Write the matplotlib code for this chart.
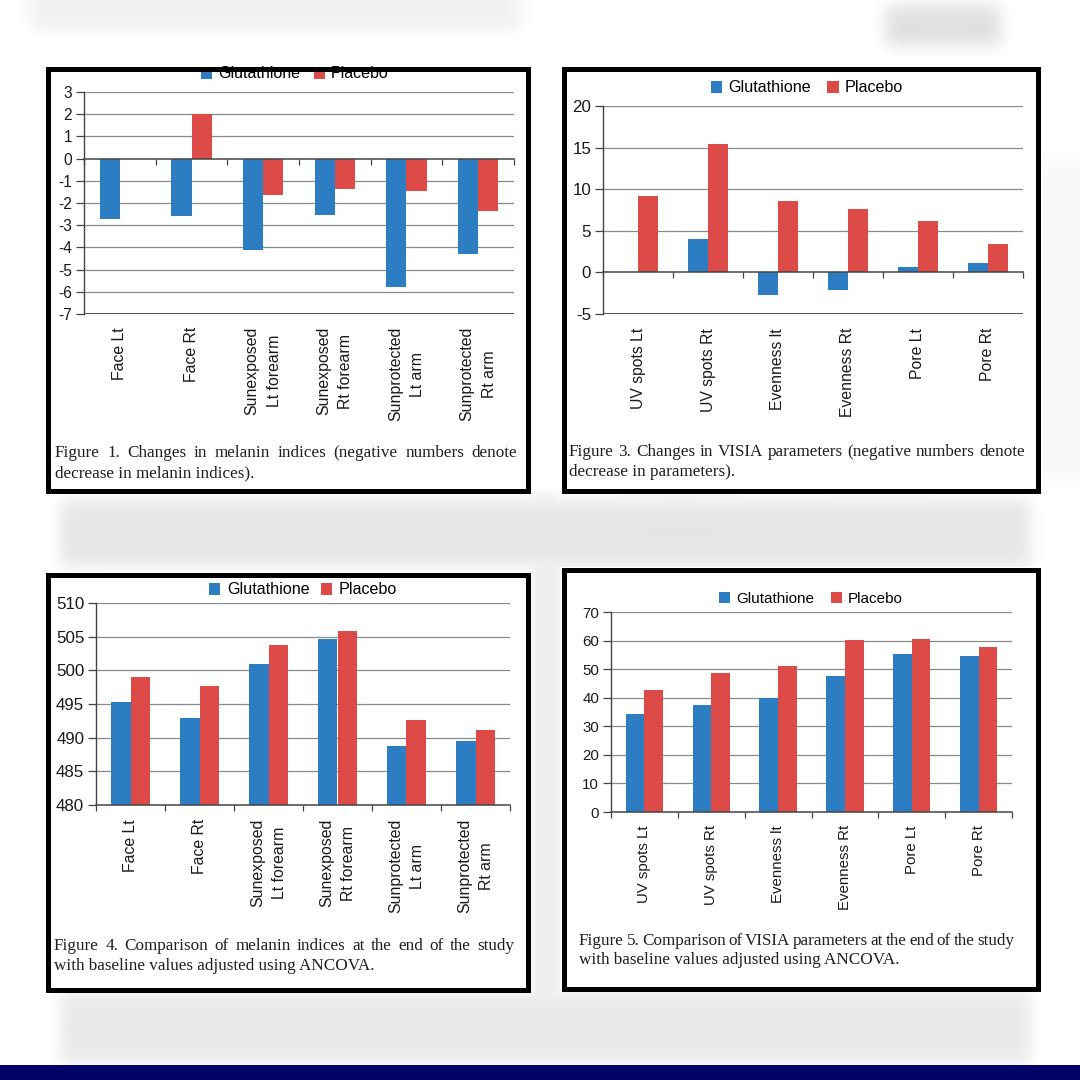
import numpy as np
import matplotlib
matplotlib.use('Agg')
import matplotlib.pyplot as plt
from matplotlib.patches import Rectangle

plt.rcParams['font.family'] = 'Liberation Sans'
plt.rcParams['axes.unicode_minus'] = False

# data
cats_melanin = ['Face Lt', 'Face Rt', 'Sunexposed\nLt forearm', 'Sunexposed\nRt forearm',
                'Sunprotected\nLt arm', 'Sunprotected\nRt arm']
cats_visia = ['UV spots Lt', 'UV spots Rt', 'Evenness lt', 'Evenness Rt', 'Pore Lt', 'Pore Rt']
series_names = ['Glutathione', 'Placebo']

fig1_glut = [-2.7, -2.6, -4.1, -2.55, -5.8, -4.3]
fig1_plac = [0, 2.0, -1.62, -1.35, -1.44, -2.35]
fig3_glut = [0, 4.0, -2.76, -2.08, 0.64, 1.08]
fig3_plac = [9.15, 15.44, 8.56, 7.6, 6.2, 3.44]
fig4_glut = [495.3, 492.87, 501.0, 504.65, 488.81, 489.55]
fig4_plac = [499.06, 497.62, 503.76, 505.89, 492.57, 491.14]
fig5_glut = [34.4, 37.3, 40.0, 47.5, 55.3, 54.6]
fig5_plac = [42.6, 48.8, 51.1, 60.2, 60.55, 57.9]

cap1 = ['Figure 1.  Changes in melanin indices (negative numbers denote',
        'decrease in melanin indices).']
cap3 = ['Figure 3.  Changes in VISIA parameters (negative numbers denote',
        'decrease in parameters).']
cap4 = ['Figure 4.  Comparison of melanin indices at the end of the study',
        'with baseline values adjusted using ANCOVA.']
cap5 = ['Figure 5.  Comparison of VISIA parameters at the end of the study',
        'with baseline values adjusted using ANCOVA.']

W = H = 1080
BLUE = '#2d7dc2'
RED = '#dc4b47'
GRID = '#8a8a8a'
AXC = '#444444'
TXT = '#1a1a1a'
bw = 0.28

fig = plt.figure(figsize=(10.8, 10.8), dpi=100)
fig.patch.set_facecolor('white')


def fig_box(l, t, r, b):
    return [l / W, 1 - b / H, (r - l) / W, (b - t) / H]


# blurred page background behind the cut-outs
bg = fig.add_axes([0, 0, 1, 1], zorder=-10)
bg.set_xlim(0, W)
bg.set_ylim(H, 0)
bg.axis('off')
yy, xx = np.mgrid[0:H, 0:W]


def soft(v, a, b, s):
    return 0.5 * (np.tanh((v - a) / s) - np.tanh((v - b) / s))


shade = np.zeros((H, W))
for x0, x1, y0, y1, amp, s in [(60, 1030, 500, 566, 0.10, 9), (530, 561, 493, 1065, 0.07, 6),
                               (60, 1030, 992, 1063, 0.09, 9), (30, 520, -20, 30, 0.06, 10),
                               (885, 1000, 5, 45, 0.13, 10), (1040, 1090, 160, 480, 0.035, 12),
                               (600, 760, 505, 560, 0.13, 25), (800, 960, 505, 560, 0.11, 25)]:
    shade = np.maximum(shade, amp * soft(xx, x0, x1, s) * soft(yy, y0, y1, s))
bg.imshow(1 - shade, cmap='gray', vmin=0, vmax=1, extent=(0, W, H, 0), aspect='auto')

boxes = [(45, 66, 530, 493), (561, 66, 1040, 493), (45, 572, 530, 992), (561, 567, 1040, 991)]
for l, t, r, b in boxes:
    bg.add_patch(Rectangle((l, t), r - l, b - t, facecolor='white', edgecolor='none'))


def draw_panel(rect, glut, plac, cats, ylo, yhi, step, zero_axis, tick_fs, cat_fs, cat_pad,
               leg_xy, leg_fs, colsp):
    ax = fig.add_axes(fig_box(*rect))
    x = np.arange(len(cats))
    ax.bar(x - bw / 2, glut, bw, color=BLUE, label=series_names[0], zorder=2)
    ax.bar(x + bw / 2, plac, bw, color=RED, label=series_names[1], zorder=2)
    ax.set_xlim(-0.5, len(cats) - 0.5)
    ax.set_ylim(ylo, yhi)
    yt = np.arange(ylo, yhi + step / 2, step)
    ax.set_yticks(yt)
    ax.set_yticklabels([str(int(v)) for v in yt])
    for v in yt:
        if v != ylo and not (zero_axis and v == 0):
            ax.axhline(v, color=GRID, lw=0.9, zorder=1)
    for s in ['top', 'right']:
        ax.spines[s].set_visible(False)
    ax.spines['left'].set_color(AXC)
    ax.spines['bottom'].set_color(AXC)
    ax.spines['left'].set_linewidth(1.0)
    ax.spines['bottom'].set_linewidth(1.1)
    if zero_axis:
        ax.spines['bottom'].set_position(('data', 0))
        ax.spines['bottom'].set_zorder(3)
        ax.axhline(ylo, color=AXC, lw=1.3, zorder=1)
    ax.set_xticks(np.arange(-0.5, len(cats), 1))
    ax.tick_params(axis='x', direction='out', length=4.5, width=0.9, color=AXC, labelbottom=False)
    ax.tick_params(axis='y', direction='out', length=5.5, width=0.9, color=AXC,
                   labelsize=tick_fs, labelcolor=TXT, pad=3)
    for i, c in enumerate(cats):
        ax.annotate(c, xy=(i, 0), xycoords=('data', 'axes fraction'), xytext=(0, -cat_pad * 0.72),
                    textcoords='offset points', rotation=90, ha='center', va='top',
                    multialignment='center', fontsize=cat_fs, color=TXT, annotation_clip=False,
                    linespacing=1.6)
    ax.legend(loc='center', bbox_to_anchor=(leg_xy[0] / W, 1 - leg_xy[1] / H),
              bbox_transform=fig.transFigure, ncol=2, frameon=False, fontsize=leg_fs,
              handlelength=0.7, handleheight=0.7, handletextpad=0.4, columnspacing=colsp,
              borderpad=0, borderaxespad=0)
    return ax


draw_panel((84, 92, 514, 314), fig1_glut, fig1_plac, cats_melanin, -7, 3, 1, True,
           11.2, 11.4, 13, (295, 74), 11.5, 0.8)
draw_panel((603, 106, 1023, 314), fig3_glut, fig3_plac, cats_visia, -5, 20, 5, True,
           12.2, 11.3, 14, (807, 88), 11.6, 1.0)
draw_panel((96, 603, 510, 805), fig4_glut, fig4_plac, cats_melanin, 480, 510, 5, False,
           12.2, 11.4, 14, (303, 590), 11.6, 0.7)
draw_panel((611, 612, 1012, 812), fig5_glut, fig5_plac, cats_visia, 0, 70, 10, False,
           10.8, 10.8, 13, (811, 599), 11.0, 1.1)

# captions in a serif face, first line justified
renderer = fig.canvas.get_renderer()


def caption(lines, x0, x1, baselines, size=12.3):
    for k, (line, yb) in enumerate(zip(lines, baselines)):
        words = line.split()
        if k == len(lines) - 1:
            fig.text(x0 / W, 1 - yb / H, line, family='Liberation Serif', fontsize=size,
                     color='#1e1e1e', va='baseline', ha='left')
            continue
        texts = [fig.text(0, 1 - yb / H, w, family='Liberation Serif', fontsize=size,
                          color='#1e1e1e', va='baseline', ha='left') for w in words]
        widths = [t.get_window_extent(renderer).width for t in texts]
        gap = ((x1 - x0) - sum(widths)) / (len(words) - 1)
        xp = x0
        for t, wd in zip(texts, widths):
            t.set_x(xp / W)
            xp += wd + gap


caption(cap1, 55, 517, (457, 477))
caption(cap3, 569, 1025, (456, 476))
caption(cap4, 54, 514, (950, 970))
caption(cap5, 579, 1014, (945, 964))

# frames and bottom bar on top of everything
over = fig.add_axes([0, 0, 1, 1], zorder=10)
over.set_xlim(0, W)
over.set_ylim(H, 0)
over.axis('off')
over.patch.set_alpha(0)
for l, t, r, b in boxes:
    over.add_patch(Rectangle((l + 2.5, t + 2.5), r - l - 5, b - t - 5, facecolor='none',
                             edgecolor='black', linewidth=3.6))
over.add_patch(Rectangle((0, 1065), W, 15, facecolor='#020266', edgecolor='none'))

fig.savefig('out.png', dpi=100)
